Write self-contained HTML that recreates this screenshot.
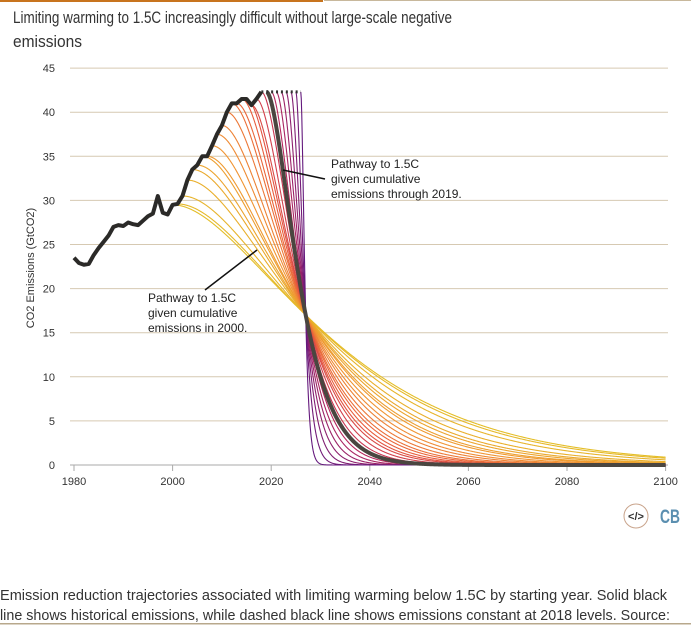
<!DOCTYPE html>
<html><head><meta charset="utf-8">
<style>
html,body{margin:0;padding:0;background:#fff;}
svg{display:block;font-family:"Liberation Sans",sans-serif;}
</style></head>
<body>
<svg id="chart" width="691" height="625" viewBox="0 0 691 625" xmlns="http://www.w3.org/2000/svg">
<rect x="0" y="0" width="323" height="2" fill="#c8741e"/>
<rect x="324" y="0" width="367" height="1" fill="#c8b89c"/>
<text x="13" y="23" font-size="17" fill="#333" textLength="439" lengthAdjust="spacingAndGlyphs">Limiting warming to 1.5C increasingly difficult without large-scale negative</text>
<text x="13" y="47" font-size="17" fill="#333" textLength="69" lengthAdjust="spacingAndGlyphs">emissions</text>
<g id="grid"></g>
<g id="yticks"></g>
<g id="xaxis"></g>
<text transform="translate(34,268) rotate(-90)" text-anchor="middle" font-size="11" fill="#333">CO2 Emissions (GtCO2)</text>
<g id="paths"></g>
<g id="hist"></g>
<line x1="283" y1="170" x2="325" y2="179" stroke="#111" stroke-width="1.5"/>
<g font-size="12" fill="#222">
<text x="331" y="168">Pathway to 1.5C</text>
<text x="331" y="183">given cumulative</text>
<text x="331" y="198">emissions through 2019.</text>
</g>
<line x1="205" y1="290" x2="257" y2="250" stroke="#111" stroke-width="1.5"/>
<g font-size="12" fill="#222">
<text x="148" y="302">Pathway to 1.5C</text>
<text x="148" y="317">given cumulative</text>
<text x="148" y="332">emissions in 2000.</text>
</g>
<g>
<circle cx="636" cy="516" r="12" fill="none" stroke="#c9a48c" stroke-width="1"/>
<text x="636" y="520" text-anchor="middle" font-size="11" font-weight="bold" fill="#333">&lt;/&gt;</text>
</g>
<text x="660" y="523" font-size="19" font-weight="bold" fill="#5b8fb0" textLength="20" lengthAdjust="spacingAndGlyphs">CB</text>
<text x="0" y="600" font-size="15" fill="#333" textLength="667" lengthAdjust="spacingAndGlyphs">Emission reduction trajectories associated with limiting warming below 1.5C by starting year. Solid black</text>
<text x="0" y="620" font-size="15" fill="#333" textLength="670" lengthAdjust="spacingAndGlyphs">line shows historical emissions, while dashed black line shows emissions constant at 2018 levels. Source:</text>
<rect x="0" y="623" width="691" height="1.5" fill="#b8a88c"/>
</svg>
<script>
const histYears = [1980,1981,1982,1983,1984,1985,1986,1987,1988,1989,1990,1991,1992,1993,1994,1995,1996,1997,1998,1999,2000,2001,2002,2003,2004,2005,2006,2007,2008,2009,2010,2011,2012,2013,2014,2015,2016,2017,2018];
const histValues = [23.5,22.9,22.7,22.8,23.8,24.6,25.3,26.0,27.0,27.2,27.1,27.5,27.3,27.2,27.7,28.2,28.5,30.5,28.6,28.4,29.5,29.6,30.5,32.3,33.5,34.0,35.0,35.0,36.2,37.5,38.5,40.0,41.0,41.0,41.5,41.5,40.8,41.5,42.3];
const constantLevel = 42.3;
const constantEndYear = 2026;
const pathwayStartYears = [2000,2001,2002,2003,2004,2005,2006,2007,2008,2009,2010,2011,2012,2013,2014,2015,2016,2017,2018,2019,2020,2021,2022,2023,2024,2025,2026];
const highlightYear = 2019;
const convergeYear = 2027;
const convergeValue = 17;
const yTicks = [0,5,10,15,20,25,30,35,40,45];
const xTicks = [1980,2000,2020,2040,2060,2080,2100];

const NS="http://www.w3.org/2000/svg";
const X0=74, PXY=4.93, Y0=465, PYU=8.82;
function xs(y){return X0+(y-1980)*PXY;}
function ys(v){return Y0-v*PYU;}
function mk(tag,attrs,parent){const e=document.createElementNS(NS,tag);for(const k in attrs)e.setAttribute(k,attrs[k]);parent.appendChild(e);return e;}

const grid=document.getElementById('grid'), yt=document.getElementById('yticks'), xa=document.getElementById('xaxis');
yTicks.forEach(v=>{
  if(v>0){const l=mk('line',{x1:70,x2:668,y1:ys(v),y2:ys(v),stroke:'#d6c9b2','stroke-width':1},grid);
  
  }
  const t=mk('text',{x:55,y:ys(v)+4,'text-anchor':'end','font-size':11,fill:'#333'},yt);
  t.textContent=v;
  
  
});
const ax=mk('line',{x1:70,x2:668,y1:Y0,y2:Y0,stroke:'#aaa','stroke-width':1},xa);


xTicks.forEach(y=>{
  const tk=mk('line',{x1:xs(y),x2:xs(y),y1:Y0,y2:Y0+6,stroke:'#aaa'},xa);
  
  
  const t=mk('text',{x:xs(y),y:Y0+20,'text-anchor':'middle','font-size':11,fill:'#333'},xa);
  t.textContent=y;
  
  
});

function startVal(s){const i=histYears.indexOf(s);return i>=0?histValues[i]:constantLevel;}
function shape(x){return (1+x)*Math.exp(-x);}
function solveRate(s,e0){const r=convergeValue/e0;let lo=0,hi=50;for(let i=0;i<60;i++){const m=(lo+hi)/2;if(shape(m)>r)lo=m;else hi=m;}return lo/(convergeYear-s);}
const stops=[[0,[228,190,40]],[0.3,[240,150,50]],[0.55,[232,90,60]],[0.75,[190,40,90]],[1,[100,25,125]]];
function col(t){for(let i=1;i<stops.length;i++){if(t<=stops[i][0]){const a=stops[i-1],b=stops[i];const f=(t-a[0])/(b[0]-a[0]);return 'rgb('+a[1].map((c,j)=>Math.round(c+(b[1][j]-c)*f)).join(',')+')';}}return 'rgb(100,25,125)';}
const pg=document.getElementById('paths');
let hiPath=null;
pathwayStartYears.forEach((s,i)=>{
  const e0=startVal(s), k=solveRate(s,e0);
  let d='';
  for(let t=s;t<=2100.001;t+=0.1){const v=e0*shape(k*(t-s));d+=(d?'L':'M')+xs(t).toFixed(2)+','+ys(v).toFixed(2);}
  if(s===highlightYear){hiPath=d;return;}
  const p=mk('path',{d:d,fill:'none',stroke:col(i/(pathwayStartYears.length-1)),'stroke-width':1.1},pg);
  
  
});
if(hiPath){const p=mk('path',{d:hiPath,fill:'none',stroke:'#4a4640','stroke-width':4},pg);

}
const hg=document.getElementById('hist');
const cl=mk('line',{x1:xs(2018),x2:xs(constantEndYear),y1:ys(constantLevel),y2:ys(constantLevel),stroke:'#333','stroke-width':3,'stroke-dasharray':'2,2.9'},hg);


const hl=mk('polyline',{points:histYears.map((y,i)=>xs(y)+','+ys(histValues[i])).join(' '),fill:'none',stroke:'#2b2a28','stroke-width':4,'stroke-linejoin':'round'},hg);


</script>
</body></html>
